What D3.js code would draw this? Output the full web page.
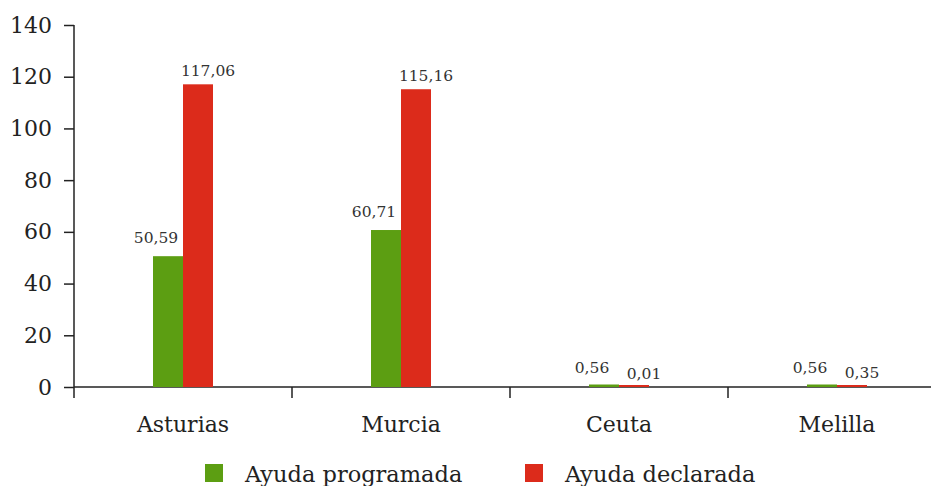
<!DOCTYPE html>
<html><head><meta charset="utf-8">
<script src="https://cdn.jsdelivr.net/npm/d3@7"></script>
<style>body{margin:0;background:#fff}svg{display:block}</style>
</head><body>
<script>
const categories = ["Asturias", "Murcia", "Ceuta", "Melilla"];
const programada = [50.59, 60.71, 0.56, 0.56];
const declarada = [117.06, 115.16, 0.01, 0.35];
const labelsProgramada = ["50,59", "60,71", "0,56", "0,56"];
const labelsDeclarada = ["117,06", "115,16", "0,01", "0,35"];
const yTicks = [0, 20, 40, 60, 80, 100, 120, 140];
const seriesNames = ["Ayuda programada", "Ayuda declarada"];
const colors = ["#5c9e12", "#dc2b1b"];

const W = 931, H = 486;
const font = "'DejaVu Serif', serif";
const svg = d3.select("body").append("svg").attr("width", W).attr("height", H);

const x = d3.scaleBand().domain(categories).range([74, 946]);
const y = d3.scaleLinear().domain([0, 140]).range([387, 25]);
const barW = 30;

// Y axis
const yAxis = svg.append("g").attr("transform", "translate(74,0)")
  .call(d3.axisLeft(y).tickValues(yTicks).tickSize(10).tickPadding(12).tickFormat(d3.format("d")));
yAxis.select(".domain").attr("stroke", "#222").attr("stroke-width", 1.5).attr("d", "M0,25V387");
yAxis.selectAll(".tick line").attr("stroke", "#222").attr("stroke-width", 1.5);
yAxis.selectAll("text").attr("font-family", font).attr("font-size", 22).attr("fill", "#222");

// X axis
const xAxis = svg.append("g").attr("transform", "translate(0,387)")
  .call(d3.axisBottom(x).tickSize(0).tickPadding(29));
xAxis.select(".domain").attr("stroke", "#222").attr("stroke-width", 1.5).attr("d", "M74,0H946");
xAxis.selectAll("text").attr("font-family", font).attr("font-size", 22).attr("fill", "#222");
// boundary ticks
const bounds = categories.map(c => x(c)).concat([x.range()[1]]);
svg.append("g").selectAll("line").data(bounds).join("line")
  .attr("x1", d => d).attr("x2", d => d).attr("y1", 387).attr("y2", 398)
  .attr("stroke", "#222").attr("stroke-width", 1.5);

const center = c => x(c) + x.bandwidth() / 2;

// Bars
svg.append("g").selectAll("rect").data(categories).join("rect")
  .attr("x", c => center(c) - barW).attr("width", barW)
  .attr("y", (c, i) => Math.min(y(programada[i]), y(0) - 2.5)).attr("height", (c, i) => Math.max(y(0) - y(programada[i]), 2.5))
  .attr("fill", colors[0]);
svg.append("g").selectAll("rect").data(categories).join("rect")
  .attr("x", c => center(c)).attr("width", barW)
  .attr("y", (c, i) => Math.min(y(declarada[i]), y(0) - 2)).attr("height", (c, i) => Math.max(y(0) - y(declarada[i]), 2))
  .attr("fill", colors[1]);

// Value labels
svg.append("g").selectAll("text").data(categories).join("text")
  .attr("x", c => center(c) - barW / 2 - 12)
  .attr("y", (c, i) => y(programada[i]) - 13)
  .attr("text-anchor", "middle").attr("font-family", font).attr("font-size", 15.5).attr("fill", "#333")
  .text((c, i) => labelsProgramada[i]);
svg.append("g").selectAll("text").data(categories).join("text")
  .attr("x", c => center(c) + barW / 2 + 10)
  .attr("y", (c, i) => y(declarada[i]) - 8)
  .attr("text-anchor", "middle").attr("font-family", font).attr("font-size", 15.5).attr("fill", "#333")
  .text((c, i) => labelsDeclarada[i]);

// Legend
const legendX = [205, 525];
const lg = svg.append("g").selectAll("g").data(seriesNames).join("g")
  .attr("transform", (d, i) => `translate(${legendX[i]},464)`);
lg.append("rect").attr("width", 18).attr("height", 18).attr("fill", (d, i) => colors[i]);
lg.append("text").attr("x", 40).attr("y", 18).attr("font-family", font).attr("font-size", 22.5).attr("fill", "#222")
  .text(d => d);
</script>
</body></html>
